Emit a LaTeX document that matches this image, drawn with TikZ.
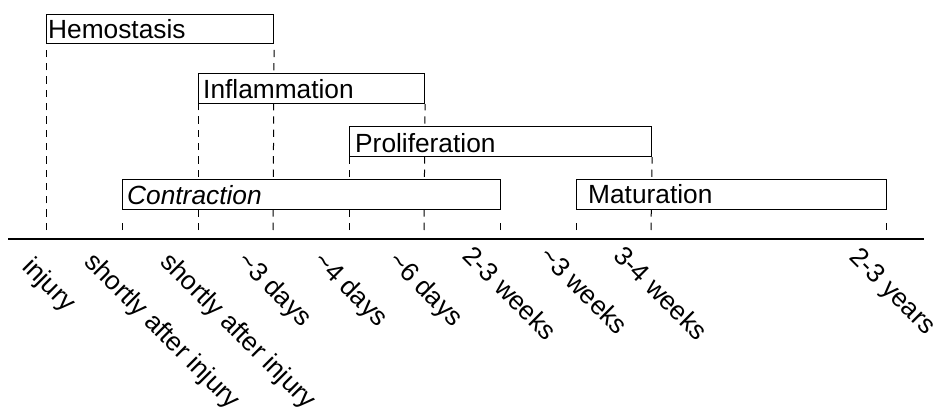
\documentclass[tikz,border=0pt]{standalone}
\usepackage{fontspec}
\setmainfont{Liberation Sans}
\begin{document}
\begin{tikzpicture}[x=1pt,y=-1pt,
  phasebox/.style={draw=black,line width=1.1pt,fill=white,inner sep=0pt,anchor=north west},
  phasename/.style={anchor=base west,inner sep=0pt,font=\fontsize{26.3}{30}\selectfont},
  guide/.style={draw=black,line width=1pt,dash pattern=on 7.3pt off 6pt},
  tickmark/.style={draw=black,line width=1pt},
  axisline/.style={draw=black,line width=1.3pt},
  timelabel/.style={anchor=base west,inner sep=0pt,rotate=-45,font=\fontsize{26.3}{30}\selectfont}]
\useasboundingbox (0,0) rectangle (938,412);

% tick positions on the time axis
\foreach \n/\xx in {1/46,2/122,3/198,4/273,5/349,6/424,7/500,8/576,9/651,10/886}
  \coordinate (tk\n) at (\xx,230);

% phase box outlines, used as anchors for the guides
\path (46,14)   node[phasebox,minimum width=227pt,minimum height=29pt,draw=none,fill=none] (hemo) {};
\path (198,73)  node[phasebox,minimum width=226pt,minimum height=30pt,draw=none,fill=none] (infl) {};
\path (349,126) node[phasebox,minimum width=302pt,minimum height=30pt,draw=none,fill=none] (prol) {};
\path (122,179) node[phasebox,minimum width=378pt,minimum height=30pt,draw=none,fill=none] (contr) {};
\path (576,179) node[phasebox,minimum width=310pt,minimum height=30pt,draw=none,fill=none] (matur) {};

% dashed guides from phase boundaries down to the axis
\draw[guide] (tk1) -- (hemo.south west);
\draw[guide] (tk4) -- (hemo.south east);
\draw[guide] (tk3) -- (infl.south west);
\draw[guide] (tk6) -- (infl.south east);
\draw[guide] (tk5) -- (prol.south west);
\draw[guide] (tk9) -- (prol.south east);
\foreach \n in {2,7,8,10}
  \draw[tickmark] (tk\n) -- ++(0,-7.3);

% phase boxes drawn over the guides
\path (46,14)   node[phasebox,minimum width=227pt,minimum height=29pt] (hemoB) {};
\path (198,73)  node[phasebox,minimum width=226pt,minimum height=30pt] (inflB) {};
\path (349,126) node[phasebox,minimum width=302pt,minimum height=30pt] (prolB) {};
\path (122,179) node[phasebox,minimum width=378pt,minimum height=30pt] (contrB) {};
\path (576,179) node[phasebox,minimum width=310pt,minimum height=30pt] (maturB) {};

% phase names
\node[phasename] (hemoT)  at (48,39)    {Hemostasis};
\node[phasename] (inflT)  at (203,99)   {Inflammation};
\node[phasename] (prolT)  at (355,152)  {Proliferation};
\node[phasename] (contrT) at (127,204)  {\itshape Contraction};
\node[phasename] (maturT) at (588,203.5) {Maturation};

% time axis
\coordinate (axL) at (8,239);
\coordinate (axR) at (924,239);
\draw[axisline] (axL) -- (axR);

% rotated time labels
\node[timelabel] (lb1)  at (21,268)  {injury};
\node[timelabel] (lb2)  at (83,263)  {shortly after injury};
\node[timelabel] (lb3)  at (159,263) {shortly after injury};
\node[timelabel] (lb4)  at (236,262) {\textasciitilde3 days};
\node[timelabel] (lb5)  at (312,262) {\textasciitilde4 days};
\node[timelabel] (lb6)  at (387,262) {\textasciitilde6 days};
\node[timelabel] (lb7)  at (461,257) {2-3 weeks};
\node[timelabel] (lb8)  at (538,257) {\textasciitilde3 weeks};
\node[timelabel] (lb9)  at (612,257) {3-4 weeks};
\node[timelabel] (lb10) at (848,258) {2-3 years};
\end{tikzpicture}
\end{document}
